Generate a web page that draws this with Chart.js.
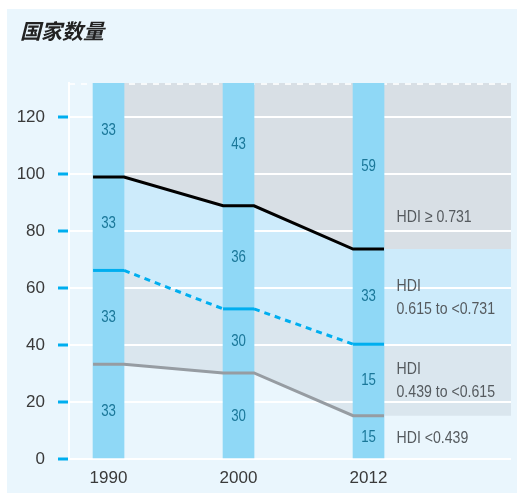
<!DOCTYPE html>
<html>
<head>
<meta charset="utf-8">
<script src="https://cdn.jsdelivr.net/npm/chart.js@4.4.1/dist/chart.umd.min.js"></script>
<style>
  html, body { margin: 0; padding: 0; background: #ffffff; }
  #wrap { position: absolute; left: 7px; top: 9px; width: 510px; height: 484px; background: #eaf6fd; }
</style>
</head>
<body>
<div id="wrap"><canvas id="chart" width="510" height="484"></canvas></div>
<script>
// Nombre de pays par groupe d'IDH, 1990 / 2000 / 2012
const title = '国家数量';
const years = ['1990', '2000', '2012'];
const yTicks = [0, 20, 40, 60, 80, 100, 120];
const Y_MAX = 132;

// limites cumulées entre groupes
const lineHigh = [99, 88.9, 73.7];
const lineMid = [66.2, 52.7, 40.3];
const lineLow = [33.3, 30.2, 15.2];

// effectifs affichés dans les barres
const countVeryHigh = [33, 43, 59];
const countHigh = [33, 36, 33];
const countMedium = [33, 30, 15];
const countLow = [33, 30, 15];

const bandLabels = [
    ['HDI \u2265 0.731'],
    ['HDI', '0.615 to <0.731'],
    ['HDI', '0.439 to <0.615'],
    ['HDI <0.439']
];

const FONT = '"Liberation Sans", Arial, sans-serif';
const HALF = 0.119;        // demi-largeur de barre en unités x
const X_MIN = -0.304;
const X_MAX = 3.096;

function stepPoints(vals, extend) {
    const pts = [];
    vals.forEach((v, i) => {
        pts.push({ x: i - HALF, y: v });
        pts.push({ x: i + HALF, y: v });
    });
    if (extend) pts.push({ x: X_MAX, y: vals[vals.length - 1] });
    return pts;
}

// texte resserré horizontalement (police condensée de l'original)
function narrowText(ctx, t, x, y, sx) {
    ctx.save();
    ctx.translate(x, y);
    ctx.scale(sx, 1);
    ctx.fillText(t, 0, 0);
    ctx.restore();
}

const band = {
    type: 'line', borderWidth: 0, borderColor: 'rgba(0,0,0,0)',
    pointRadius: 0, tension: 0, order: 10
};

const textPlugin = {
    id: 'texts',
    beforeDatasetsDraw(chart) {
        const ctx = chart.ctx, a = chart.chartArea;
        ctx.save();
        ctx.strokeStyle = 'rgba(255,255,255,0.8)';
        ctx.lineWidth = 2;
        ctx.setLineDash([6, 6]);
        ctx.beginPath();
        ctx.moveTo(a.left, a.top + 1);
        ctx.lineTo(a.right, a.top + 1);
        ctx.stroke();
        ctx.restore();
    },
    afterDatasetsDraw(chart) {
        const ctx = chart.ctx;
        const xs = chart.scales.x, ys = chart.scales.y;
        ctx.save();
        ctx.textBaseline = 'middle';

        // chiffres dans les barres
        ctx.font = '17px ' + FONT;
        ctx.fillStyle = '#1a7799';
        ctx.textAlign = 'center';
        years.forEach((yr, i) => {
            const bounds = [0, lineLow[i], lineMid[i], lineHigh[i], Y_MAX];
            const counts = [countLow[i], countMedium[i], countHigh[i], countVeryHigh[i]];
            counts.forEach((c, k) => {
                const mid = (bounds[k] + bounds[k + 1]) / 2;
                narrowText(ctx, String(c), xs.getPixelForValue(i), ys.getPixelForValue(mid), 0.78);
            });
        });

        // libellés des groupes à droite
        const anchors = [85, 60.7, 31.6, 7.4];
        const x = xs.getPixelForValue(years.length - 1) + 28;
        ctx.font = '17px ' + FONT;
        ctx.fillStyle = '#555a5e';
        ctx.textAlign = 'left';
        bandLabels.forEach((lines, k) => {
            lines.forEach((t, j) => {
                narrowText(ctx, t, x, ys.getPixelForValue(anchors[k]) + j * 23, 0.83);
            });
        });
        ctx.restore();
    },
    afterDraw(chart) {
        const ctx = chart.ctx;
        ctx.save();
        ctx.font = 'italic bold 21px "Noto Sans CJK SC", sans-serif';
        ctx.fillStyle = '#222222';
        ctx.textBaseline = 'middle';
        ctx.textAlign = 'left';
        ctx.fillText(title, 13, 22);
        ctx.restore();
    }
};

new Chart(document.getElementById('chart'), {
    type: 'line',
    data: {
        datasets: [
            Object.assign({}, band, { data: stepPoints(lineHigh, true), fill: 'end', backgroundColor: '#d8dfe5' }),
            Object.assign({}, band, { data: stepPoints(lineHigh, true), fill: '+1', backgroundColor: '#cdebfb' }),
            Object.assign({}, band, { data: stepPoints(lineMid, true), fill: '+1', backgroundColor: '#dae6ee' }),
            Object.assign({}, band, { data: stepPoints(lineLow, true), fill: false }),
            {
                type: 'bar',
                data: years.map((y, i) => ({ x: i, y: Y_MAX })),
                backgroundColor: '#8fd8f6',
                borderWidth: 0,
                barThickness: 31,
                order: 5
            },
            {
                type: 'line', data: stepPoints(lineHigh, false), borderColor: '#000000',
                borderWidth: 3, pointRadius: 0, tension: 0, fill: false, order: 0
            },
            {
                type: 'line', data: stepPoints(lineMid, false), borderColor: '#00aeef',
                borderWidth: 3, pointRadius: 0, tension: 0, fill: false, order: 0,
                segment: { borderDash: c => (c.p0DataIndex % 2 === 1 ? [6, 5] : undefined) }
            },
            {
                type: 'line', data: stepPoints(lineLow, false), borderColor: '#969ca2',
                borderWidth: 3, pointRadius: 0, tension: 0, fill: false, order: 0
            }
        ]
    },
    options: {
        responsive: false,
        animation: false,
        devicePixelRatio: 1,
        layout: { padding: { top: 74, right: 6, left: 0, bottom: 0 } },
        scales: {
            x: {
                type: 'linear', min: X_MIN, max: X_MAX, offset: false,
                afterBuildTicks: s => { s.ticks = years.map((y, i) => ({ value: i })); },
                afterFit: s => { s.height = 34; },
                grid: { display: false, drawTicks: false, offset: false },
                border: { display: false },
                ticks: {
                    callback: v => years[v],
                    font: { family: FONT, size: 17 },
                    color: '#3a3a3a', padding: 9, autoSkip: false, maxRotation: 0
                }
            },
            y: {
                min: 0, max: Y_MAX,
                afterBuildTicks: s => { s.ticks = yTicks.map(v => ({ value: v })); },
                afterFit: s => { s.width = 62; },
                grid: { color: '#ffffff', lineWidth: 2, tickColor: '#00aeef', tickWidth: 3, tickLength: 11, drawTicks: true },
                border: { display: true, color: '#ffffff', width: 2 },
                ticks: { font: { family: FONT, size: 17 }, color: '#3a3a3a', padding: 13 }
            }
        },
        plugins: {
            legend: { display: false },
            tooltip: { enabled: false },
            filler: { drawTime: 'beforeDraw' }
        }
    },
    plugins: [textPlugin]
});
</script>
</body>
</html>
